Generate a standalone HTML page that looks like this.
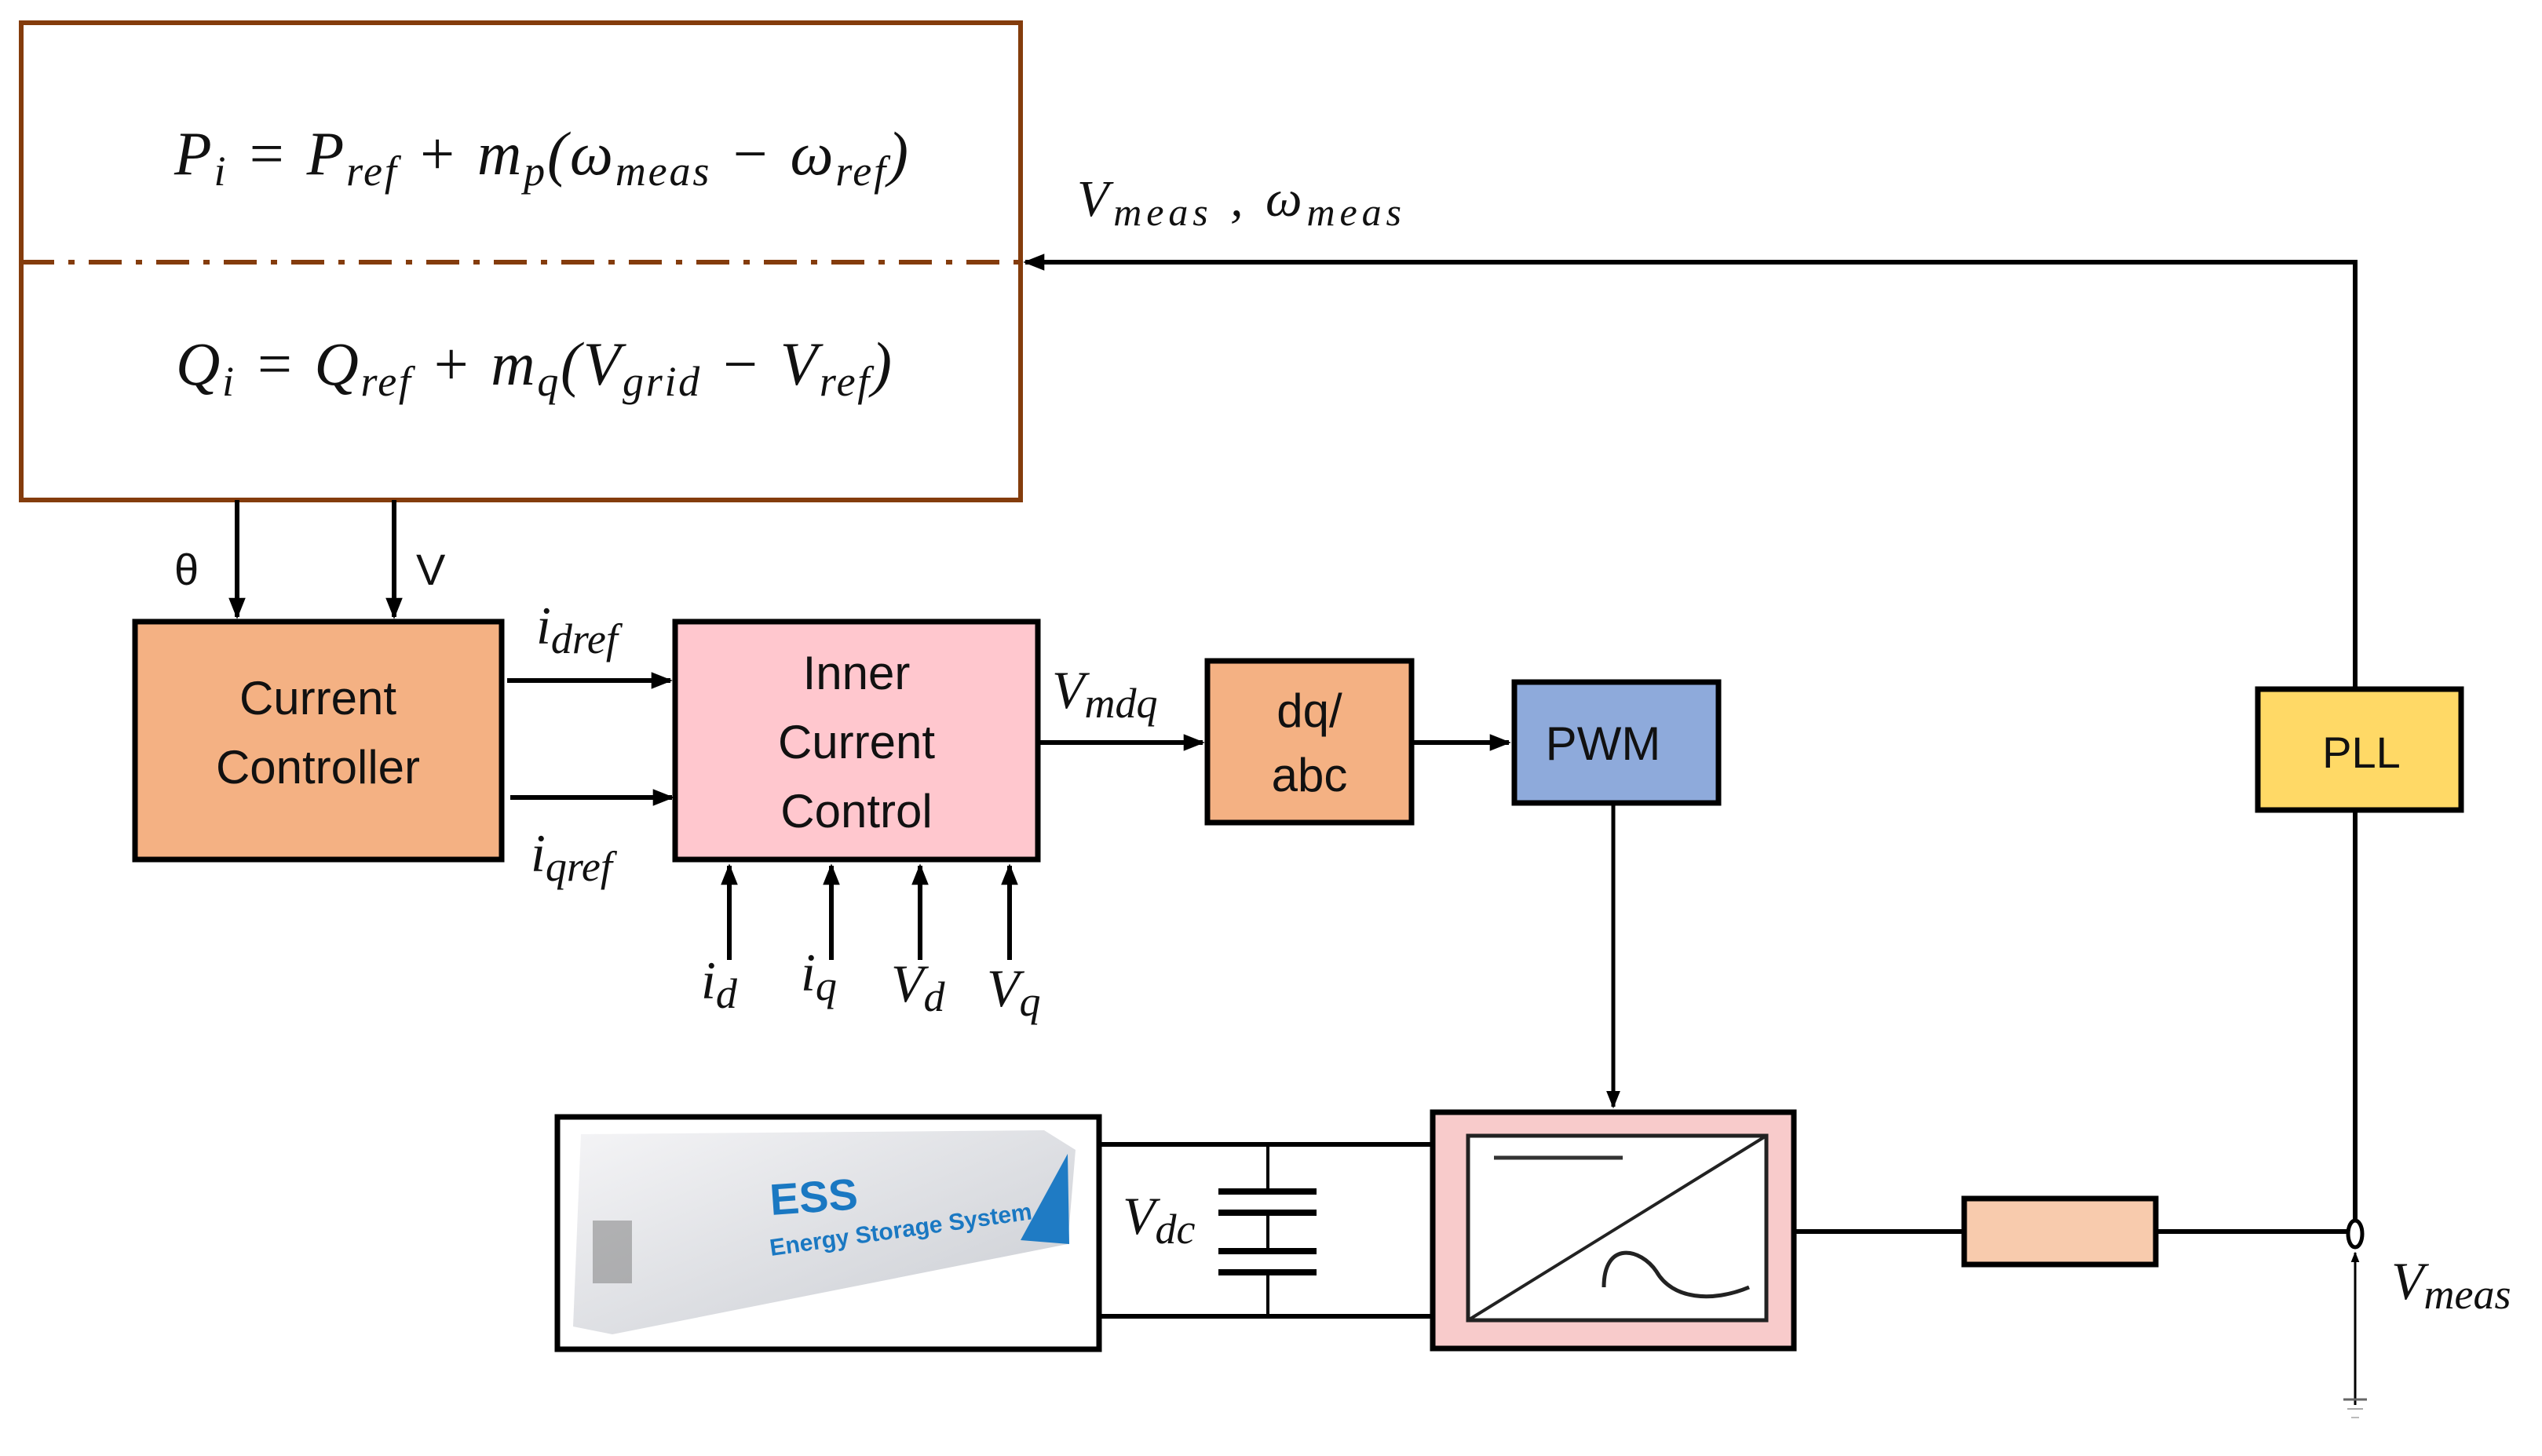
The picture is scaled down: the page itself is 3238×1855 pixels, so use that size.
<!DOCTYPE html>
<html><head><meta charset="utf-8"><style>
html,body{margin:0;padding:0;background:#fff;}
svg{display:block;}
.m{font-family:"Liberation Serif",serif;font-style:italic;fill:#111;}
.s{font-family:"Liberation Sans",sans-serif;fill:#111;}
</style></head><body>
<svg width="3238" height="1855" viewBox="0 0 3238 1855" xmlns="http://www.w3.org/2000/svg">
<defs>
<marker id="a" viewBox="0 0 10 10" refX="9" refY="5" markerWidth="4.5" markerHeight="4.5" orient="auto" markerUnits="strokeWidth"><path d="M0,1 L10,5 L0,9 z" fill="#000"/></marker>
<linearGradient id="cg" x1="0" y1="0" x2="1" y2="1"><stop offset="0" stop-color="#f4f4f6"/><stop offset="1" stop-color="#c9ccd2"/></linearGradient>
</defs>
<rect x="27" y="29" width="1273" height="608" fill="#fff" stroke="#843c0c" stroke-width="6"/>
<line x1="27" y1="334" x2="1300" y2="334" stroke="#843c0c" stroke-width="6" stroke-dasharray="42,18,8,18"/>
<text x="222" y="222" class="m" font-size="78" textLength="935" lengthAdjust="spacing">P<tspan font-size="54" dy="14">i</tspan><tspan dy="-14"> = P</tspan><tspan font-size="54" dy="14">ref</tspan><tspan dy="-14"> + m</tspan><tspan font-size="54" dy="14">p</tspan><tspan dy="-14">(ω</tspan><tspan font-size="54" dy="14">meas</tspan><tspan dy="-14"> − ω</tspan><tspan font-size="54" dy="14">ref</tspan><tspan dy="-14">)</tspan></text>
<text x="224" y="490" class="m" font-size="78" textLength="912" lengthAdjust="spacing">Q<tspan font-size="54" dy="14">i</tspan><tspan dy="-14"> = Q</tspan><tspan font-size="54" dy="14">ref</tspan><tspan dy="-14"> + m</tspan><tspan font-size="54" dy="14">q</tspan><tspan dy="-14">(V</tspan><tspan font-size="54" dy="14">grid</tspan><tspan dy="-14"> − V</tspan><tspan font-size="54" dy="14">ref</tspan><tspan dy="-14">)</tspan></text>
<polyline points="3000,1560 3000,334 1306,334" fill="none" stroke="#000" stroke-width="6" marker-end="url(#a)"/>
<text x="1372" y="275" class="m" font-size="66" textLength="413" lengthAdjust="spacing">V<tspan font-size="50" dy="12">meas</tspan><tspan dy="-12"> , ω</tspan><tspan font-size="50" dy="12">meas</tspan></text>
<line x1="302" y1="637" x2="302" y2="786" stroke="#000" stroke-width="6" marker-end="url(#a)"/>
<line x1="502" y1="637" x2="502" y2="786" stroke="#000" stroke-width="6" marker-end="url(#a)"/>
<text x="222" y="745" class="s" font-size="56">θ</text>
<text x="530" y="745" class="s" font-size="56">V</text>
<rect x="172" y="792" width="467" height="303" fill="#f4b183" stroke="#000" stroke-width="7"/>
<text x="405" y="910" class="s" font-size="60" text-anchor="middle">Current</text>
<text x="405" y="998" class="s" font-size="60" text-anchor="middle">Controller</text>
<line x1="646" y1="867" x2="854" y2="867" stroke="#000" stroke-width="6" marker-end="url(#a)"/>
<line x1="650" y1="1016" x2="856" y2="1016" stroke="#000" stroke-width="6" marker-end="url(#a)"/>
<text x="683" y="820" class="m" font-size="68">i<tspan font-size="54" dy="12">dref</tspan></text>
<text x="676" y="1110" class="m" font-size="68">i<tspan font-size="54" dy="12">qref</tspan></text>
<rect x="860" y="792" width="462" height="303" fill="#ffc7ce" stroke="#000" stroke-width="7"/>
<text x="1091" y="878" class="s" font-size="60" text-anchor="middle">Inner</text>
<text x="1091" y="966" class="s" font-size="60" text-anchor="middle">Current</text>
<text x="1091" y="1054" class="s" font-size="60" text-anchor="middle">Control</text>
<g stroke="#000" stroke-width="6">
<line x1="929" y1="1223" x2="929" y2="1103" marker-end="url(#a)"/>
<line x1="1059" y1="1223" x2="1059" y2="1103" marker-end="url(#a)"/>
<line x1="1172" y1="1223" x2="1172" y2="1103" marker-end="url(#a)"/>
<line x1="1286" y1="1223" x2="1286" y2="1103" marker-end="url(#a)"/>
</g>
<text x="893" y="1272" class="m" font-size="68">i<tspan font-size="54" dy="12">d</tspan></text>
<text x="1020" y="1262" class="m" font-size="68">i<tspan font-size="54" dy="12">q</tspan></text>
<text x="1135" y="1276" class="m" font-size="68">V<tspan font-size="54" dy="12">d</tspan></text>
<text x="1257" y="1282" class="m" font-size="68">V<tspan font-size="54" dy="12">q</tspan></text>
<line x1="1322" y1="946" x2="1532" y2="946" stroke="#000" stroke-width="6" marker-end="url(#a)"/>
<text x="1340" y="902" class="m" font-size="68">V<tspan font-size="54" dy="12">mdq</tspan></text>
<rect x="1538" y="842" width="260" height="206" fill="#f4b183" stroke="#000" stroke-width="7"/>
<text x="1668" y="926" class="s" font-size="60" text-anchor="middle">dq/</text>
<text x="1668" y="1008" class="s" font-size="60" text-anchor="middle">abc</text>
<line x1="1798" y1="946" x2="1922" y2="946" stroke="#000" stroke-width="6" marker-end="url(#a)"/>
<rect x="1929" y="869" width="260" height="154" fill="#8eaadb" stroke="#000" stroke-width="7"/>
<text x="2042" y="968" class="s" font-size="60" text-anchor="middle">PWM</text>
<line x1="2055" y1="1023" x2="2055" y2="1410" stroke="#000" stroke-width="5" marker-end="url(#a)"/>
<rect x="2876" y="878" width="259" height="154" fill="#ffd966" stroke="#000" stroke-width="7"/>
<text x="3008" y="978" class="s" font-size="56" text-anchor="middle">PLL</text>
<rect x="710" y="1423" width="690" height="296" fill="#fff" stroke="#000" stroke-width="7"/>
<polygon points="740,1445 1330,1440 1370,1465 1360,1585 780,1700 730,1690" fill="url(#cg)"/>
<polygon points="1300,1580 1360,1470 1362,1585" fill="#1f7bc4"/>
<rect x="755" y="1555" width="50" height="80" fill="#777" opacity="0.5"/>
<text x="982" y="1548" font-family="Liberation Sans,sans-serif" font-weight="bold" font-size="56" fill="#1a78c2" transform="rotate(-4 982 1548)">ESS</text>
<text x="982" y="1600" font-family="Liberation Sans,sans-serif" font-weight="bold" font-size="30" fill="#1a78c2" transform="rotate(-8 982 1600)">Energy Storage System</text>
<g stroke="#000" stroke-width="6">
<line x1="1400" y1="1458" x2="1825" y2="1458"/>
<line x1="1400" y1="1677" x2="1825" y2="1677"/>
<line x1="1615" y1="1458" x2="1615" y2="1518" stroke-width="4"/>
<line x1="1615" y1="1545" x2="1615" y2="1594" stroke-width="4"/>
<line x1="1615" y1="1621" x2="1615" y2="1677" stroke-width="4"/>
<line x1="1552" y1="1518" x2="1677" y2="1518" stroke-width="8"/>
<line x1="1552" y1="1545" x2="1677" y2="1545" stroke-width="8"/>
<line x1="1552" y1="1594" x2="1677" y2="1594" stroke-width="8"/>
<line x1="1552" y1="1621" x2="1677" y2="1621" stroke-width="8"/>
</g>
<text x="1430" y="1572" class="m" font-size="68">V<tspan font-size="54" dy="12">dc</tspan></text>
<rect x="1825" y="1417" width="460" height="301" fill="#f8cbcb" stroke="#000" stroke-width="7"/>
<rect x="1870" y="1447" width="380" height="235" fill="#fff" stroke="#222" stroke-width="5"/>
<line x1="1870" y1="1682" x2="2250" y2="1447" stroke="#222" stroke-width="4"/>
<line x1="1903" y1="1475" x2="2067" y2="1475" stroke="#333" stroke-width="5"/>
<path d="M2043,1640 C2043,1580 2090,1590 2110,1620 C2130,1655 2180,1660 2228,1640" fill="none" stroke="#222" stroke-width="5"/>
<line x1="2285" y1="1569" x2="2502" y2="1569" stroke="#000" stroke-width="6"/>
<rect x="2502" y="1527" width="244" height="84" fill="#f8cbad" stroke="#000" stroke-width="7"/>
<line x1="2746" y1="1569" x2="2990" y2="1569" stroke="#000" stroke-width="6"/>
<ellipse cx="3000" cy="1572" rx="9" ry="17" fill="#fff" stroke="#000" stroke-width="5"/>
<line x1="3000" y1="1790" x2="3000" y2="1596" stroke="#000" stroke-width="3" marker-end="url(#a)"/>
<line x1="2985" y1="1783" x2="3015" y2="1783" stroke="#666" stroke-width="3"/>
<line x1="2990" y1="1795" x2="3010" y2="1795" stroke="#aaa" stroke-width="2"/>
<line x1="2995" y1="1806" x2="3005" y2="1806" stroke="#bbb" stroke-width="2"/>
<text x="3046" y="1655" class="m" font-size="68">V<tspan font-size="54" dy="12">meas</tspan></text>
</svg>
</body></html>
